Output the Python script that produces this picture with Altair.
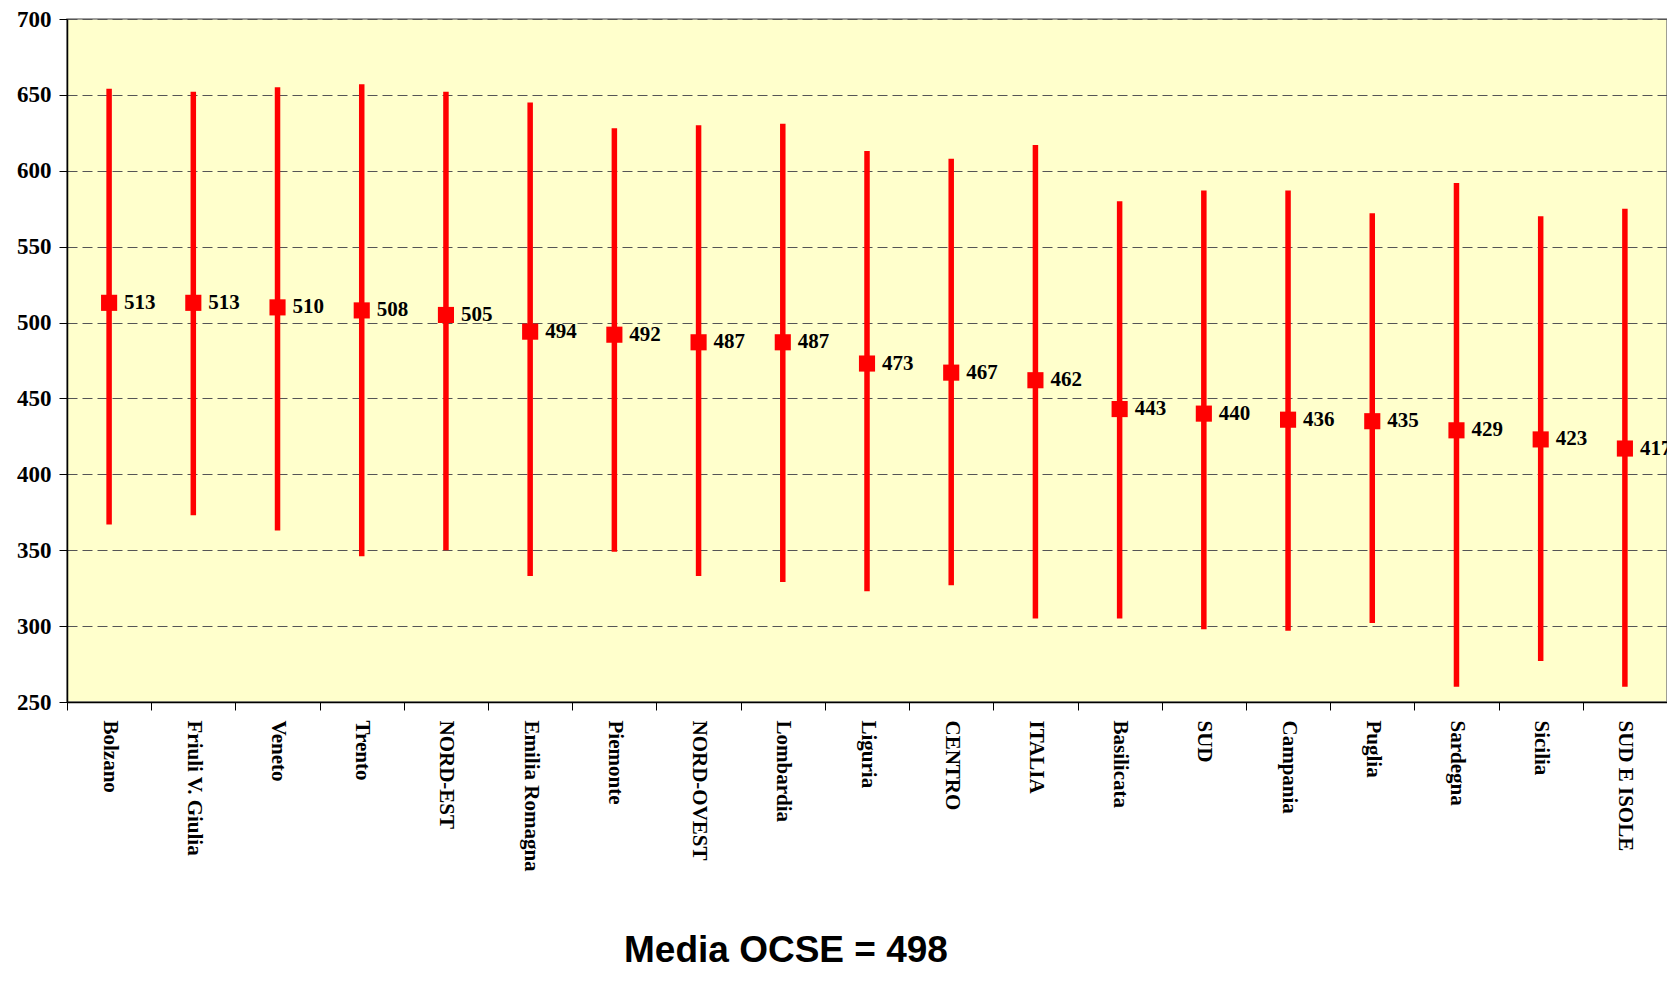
import altair as alt
import pandas as pd

regions = ["Bolzano", "Friuli V. Giulia", "Veneto", "Trento", "NORD-EST",
           "Emilia Romagna", "Piemonte", "NORD-OVEST", "Lombardia", "Liguria",
           "CENTRO", "ITALIA", "Basilicata", "SUD", "Campania", "Puglia",
           "Sardegna", "Sicilia", "SUD E ISOLE"]
means = [513, 513, 510, 508, 505, 494, 492, 487, 487, 473, 467, 462, 443, 440,
         436, 435, 429, 423, 417]
highs = [654, 652, 655, 657, 652, 645, 628, 630, 631, 613, 608, 617, 580, 587,
         587, 572, 592, 570, 575]
lows = [367, 373, 363, 346, 350, 333, 349, 333, 329, 323, 327, 305, 305, 298,
        297, 302, 260, 277, 260]
y_ticks = [250, 300, 350, 400, 450, 500, 550, 600, 650, 700]
footer = "Media OCSE = 498"

df = pd.DataFrame({"regione": regions, "media": means, "alto": highs, "basso": lows})

serif = "Liberation Serif"

x_enc = alt.X("regione:N", sort=regions,
              scale=alt.Scale(paddingInner=0, paddingOuter=0),
              axis=alt.Axis(title=None, labelAngle=90, labelAlign="left",
                            labelBaseline="middle", labelFont=serif,
                            labelFontWeight="bold", labelFontSize=21,
                            labelColor="black", labelPadding=10,
                            tickBand="extent", tickSize=8, tickColor="black",
                            domainColor="black", domainWidth=1.5, grid=False))

y_scale = alt.Scale(domain=[250, 700], nice=False, zero=False)

rules = alt.Chart(df).mark_rule(color="#FF0000", strokeWidth=5.5).encode(
    x=x_enc,
    y=alt.Y("basso:Q", scale=y_scale,
            axis=alt.Axis(title=None, values=y_ticks, labelFont=serif,
                          labelFontWeight="bold", labelFontSize=23,
                          labelColor="black", labelPadding=8, tickSize=8,
                          tickColor="black", domainColor="black",
                          domainWidth=1.5, grid=True, gridColor="#555555",
                          gridDash=[10, 5], gridWidth=1)),
    y2="alto:Q",
)

points = alt.Chart(df).mark_point(shape="square", filled=True, size=260,
                                  color="#FF0000", opacity=1).encode(
    x=alt.X("regione:N", sort=regions),
    y=alt.Y("media:Q", scale=y_scale),
)

labels = alt.Chart(df).mark_text(align="left", baseline="middle", dx=15,
                                 font=serif, fontWeight="bold", fontSize=21,
                                 color="black").encode(
    x=alt.X("regione:N", sort=regions),
    y=alt.Y("media:Q", scale=y_scale),
    text="media:Q",
)

chart = alt.layer(rules, points, labels).properties(
    width=1600, height=683,
    autosize=alt.AutoSizeParams(type="none"),
    padding={"left": 59, "top": 11, "right": 0, "bottom": 268},
    title=alt.TitleParams(footer, orient="bottom", anchor="middle",
                          font="Liberation Sans", fontSize=37,
                          fontWeight="bold", color="black", offset=62, dx=-81),
).configure_view(fill="#FFFFCC", stroke="#808080", strokeWidth=1.5)

chart.save("out.html", embed_options={"renderer": "svg", "actions": False})
